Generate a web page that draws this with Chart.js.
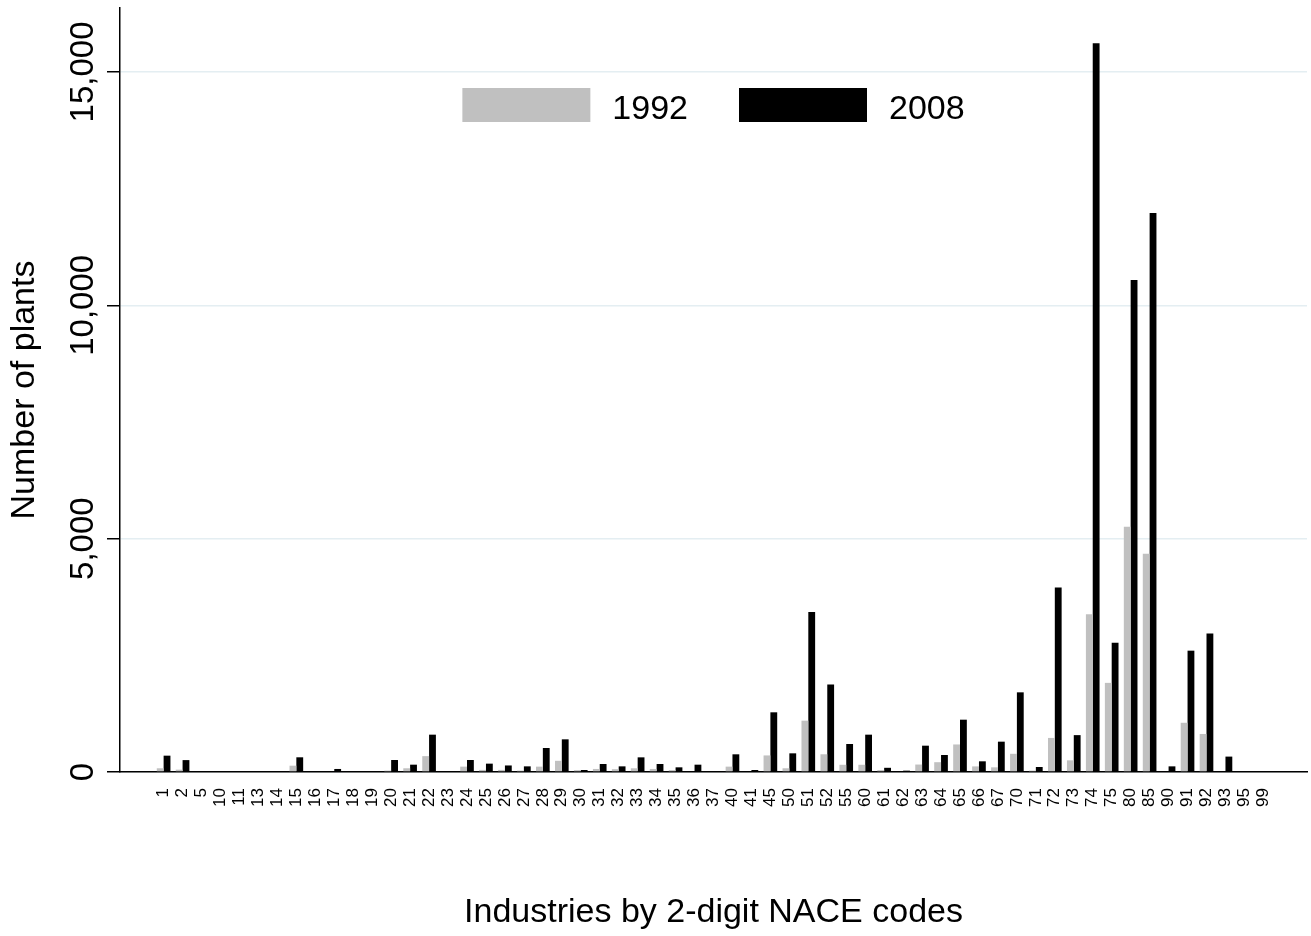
<!DOCTYPE html>
<html>
<head>
<meta charset="utf-8">
<title>Number of plants by industry</title>
<script src="https://cdn.jsdelivr.net/npm/chart.js@4.4.1/dist/chart.umd.min.js"></script>
<style>
  html, body { margin: 0; padding: 0; background: #fff; }
  #wrap { width: 1311px; height: 936px; }
</style>
</head>
<body>
<div id="wrap"><canvas id="plantsChart" width="1311" height="936"></canvas></div>
<script>
// 2-digit NACE industry codes
const naceCodes = ['1', '2', '5', '10', '11', '13', '14', '15', '16', '17', '18', '19',
    '20', '21', '22', '23', '24', '25', '26', '27', '28', '29',
    '30', '31', '32', '33', '34', '35', '36', '37', '40', '41', '45',
    '50', '51', '52', '55', '60', '61', '62', '63', '64', '65', '66', '67',
    '70', '71', '72', '73', '74', '75', '80', '85', '90', '91', '92', '93', '95', '99'];

// plants per industry
const plants1992 = [80, 50, 0, 0, 0, 0, 0, 135, 0, 0, 0, 0,
    30, 80, 340, 0, 115, 45, 45, 30, 115, 240,
    40, 65, 60, 80, 65, 40, 0, 0, 115, 0, 355,
    80, 1100, 380, 155, 155, 40, 0, 160, 210, 590, 120, 100,
    390, 30, 730, 250, 3380, 1910, 5255, 4675, 0, 1055, 815, 0, 0, 0];

const plants2008 = [350, 255, 0, 0, 0, 0, 0, 315, 0, 65, 0, 0,
    257, 157, 800, 0, 257, 179, 140, 121, 514, 700,
    43, 171, 121, 314, 171, 100, 157, 0, 379, 43, 1279,
    400, 3430, 1875, 600, 800, 90, 29, 564, 364, 1121, 229, 650,
    1707, 107, 3955, 790, 15615, 2770, 10540, 11978, 121, 2600, 2970, 330, 0, 0];

const yTicks = [0, 5000, 10000, 15000];
const seriesNames = ['1992', '2008'];
const seriesColors = ['#c0c0c0', '#000000'];

const FONT = "'Liberation Sans', Arial, sans-serif";

// y tick labels (rotated) and the key inside the plot
const sideLabels = {
    id: 'sideLabels',
    afterDraw(chart) {
        const ctx = chart.ctx;
        const yScale = chart.scales.y;
        const area = chart.chartArea;

        ctx.save();
        ctx.fillStyle = '#000';
        ctx.font = '33px ' + FONT;
        ctx.textAlign = 'center';
        ctx.textBaseline = 'alphabetic';
        yTicks.forEach(v => {
            const py = yScale.getPixelForValue(v);
            ctx.save();
            ctx.translate(yScale.right - 27, py);
            ctx.rotate(-Math.PI / 2);
            ctx.fillText(v.toLocaleString('en-US'), 0, 0);
            ctx.restore();
        });

        // key
        ctx.font = '34px ' + FONT;
        ctx.textAlign = 'left';
        const boxW = 128, boxH = 34, gap = 22, spacing = 51;
        const widths = seriesNames.map(n => ctx.measureText(n).width);
        let total = 0;
        widths.forEach((w, i) => { total += boxW + gap + w + (i ? 0 : spacing); });
        let x = (area.left + area.right) / 2 - total / 2;
        const top = 88;
        seriesNames.forEach((name, i) => {
            ctx.fillStyle = seriesColors[i];
            ctx.fillRect(x, top, boxW, boxH);
            ctx.fillStyle = '#000';
            ctx.fillText(name, x + boxW + gap, top + 31);
            x += boxW + gap + widths[i] + spacing;
        });
        ctx.restore();
    }
};

document.addEventListener('DOMContentLoaded', function() {
    const ctx = document.getElementById('plantsChart');
    const last = naceCodes.length - 1;

    new Chart(ctx, {
        type: 'bar',
        data: {
            datasets: [{
                label: seriesNames[0],
                data: plants1992.map((v, i) => ({ x: i, y: v })),
                backgroundColor: seriesColors[0]
            }, {
                label: seriesNames[1],
                data: plants2008.map((v, i) => ({ x: i, y: v })),
                backgroundColor: seriesColors[1]
            }]
        },
        options: {
            responsive: false,
            animation: false,
            devicePixelRatio: 1,
            layout: { padding: { top: 8, right: 4, bottom: 0, left: 0 } },
            datasets: { bar: { categoryPercentage: 0.72, barPercentage: 1 } },
            plugins: {
                legend: { display: false },
                tooltip: { enabled: false }
            },
            scales: {
                x: {
                    type: 'linear',
                    offset: false,
                    min: -2.3,
                    max: last + 2.3,
                    grid: { display: false, drawTicks: false, offset: false },
                    border: { color: '#000', width: 1.5 },
                    ticks: {
                        stepSize: 1,
                        autoSkip: false,
                        minRotation: 90,
                        maxRotation: 90,
                        padding: 16,
                        color: '#000',
                        font: { family: FONT, size: 17 },
                        callback: function(value) {
                            return (Number.isInteger(value) && value >= 0 && value <= last) ? naceCodes[value] : '';
                        }
                    },
                    title: {
                        display: true,
                        text: 'Industries by 2-digit NACE codes',
                        color: '#000',
                        font: { family: FONT, size: 34 },
                        padding: { top: 0, bottom: 3 }
                    },
                    afterFit: function(scale) {
                        scale.height = 164;
                        scale.paddingLeft = 0;
                        scale.paddingRight = 0;
                    }
                },
                y: {
                    min: 0,
                    max: 16371,
                    afterBuildTicks: function(scale) {
                        scale.ticks = yTicks.map(v => ({ value: v }));
                    },
                    grid: {
                        color: '#e4eef2',
                        lineWidth: 1.5,
                        tickColor: '#000',
                        tickLength: 13,
                        tickWidth: 1.5
                    },
                    border: { color: '#000', width: 1.5 },
                    ticks: { display: false },
                    title: {
                        display: true,
                        text: 'Number of plants',
                        color: '#000',
                        font: { family: FONT, size: 34 },
                        padding: { top: 4, bottom: 0 }
                    },
                    afterFit: function(scale) {
                        scale.width = 120;
                    }
                }
            }
        },
        plugins: [sideLabels]
    });
});
</script>
</body>
</html>
